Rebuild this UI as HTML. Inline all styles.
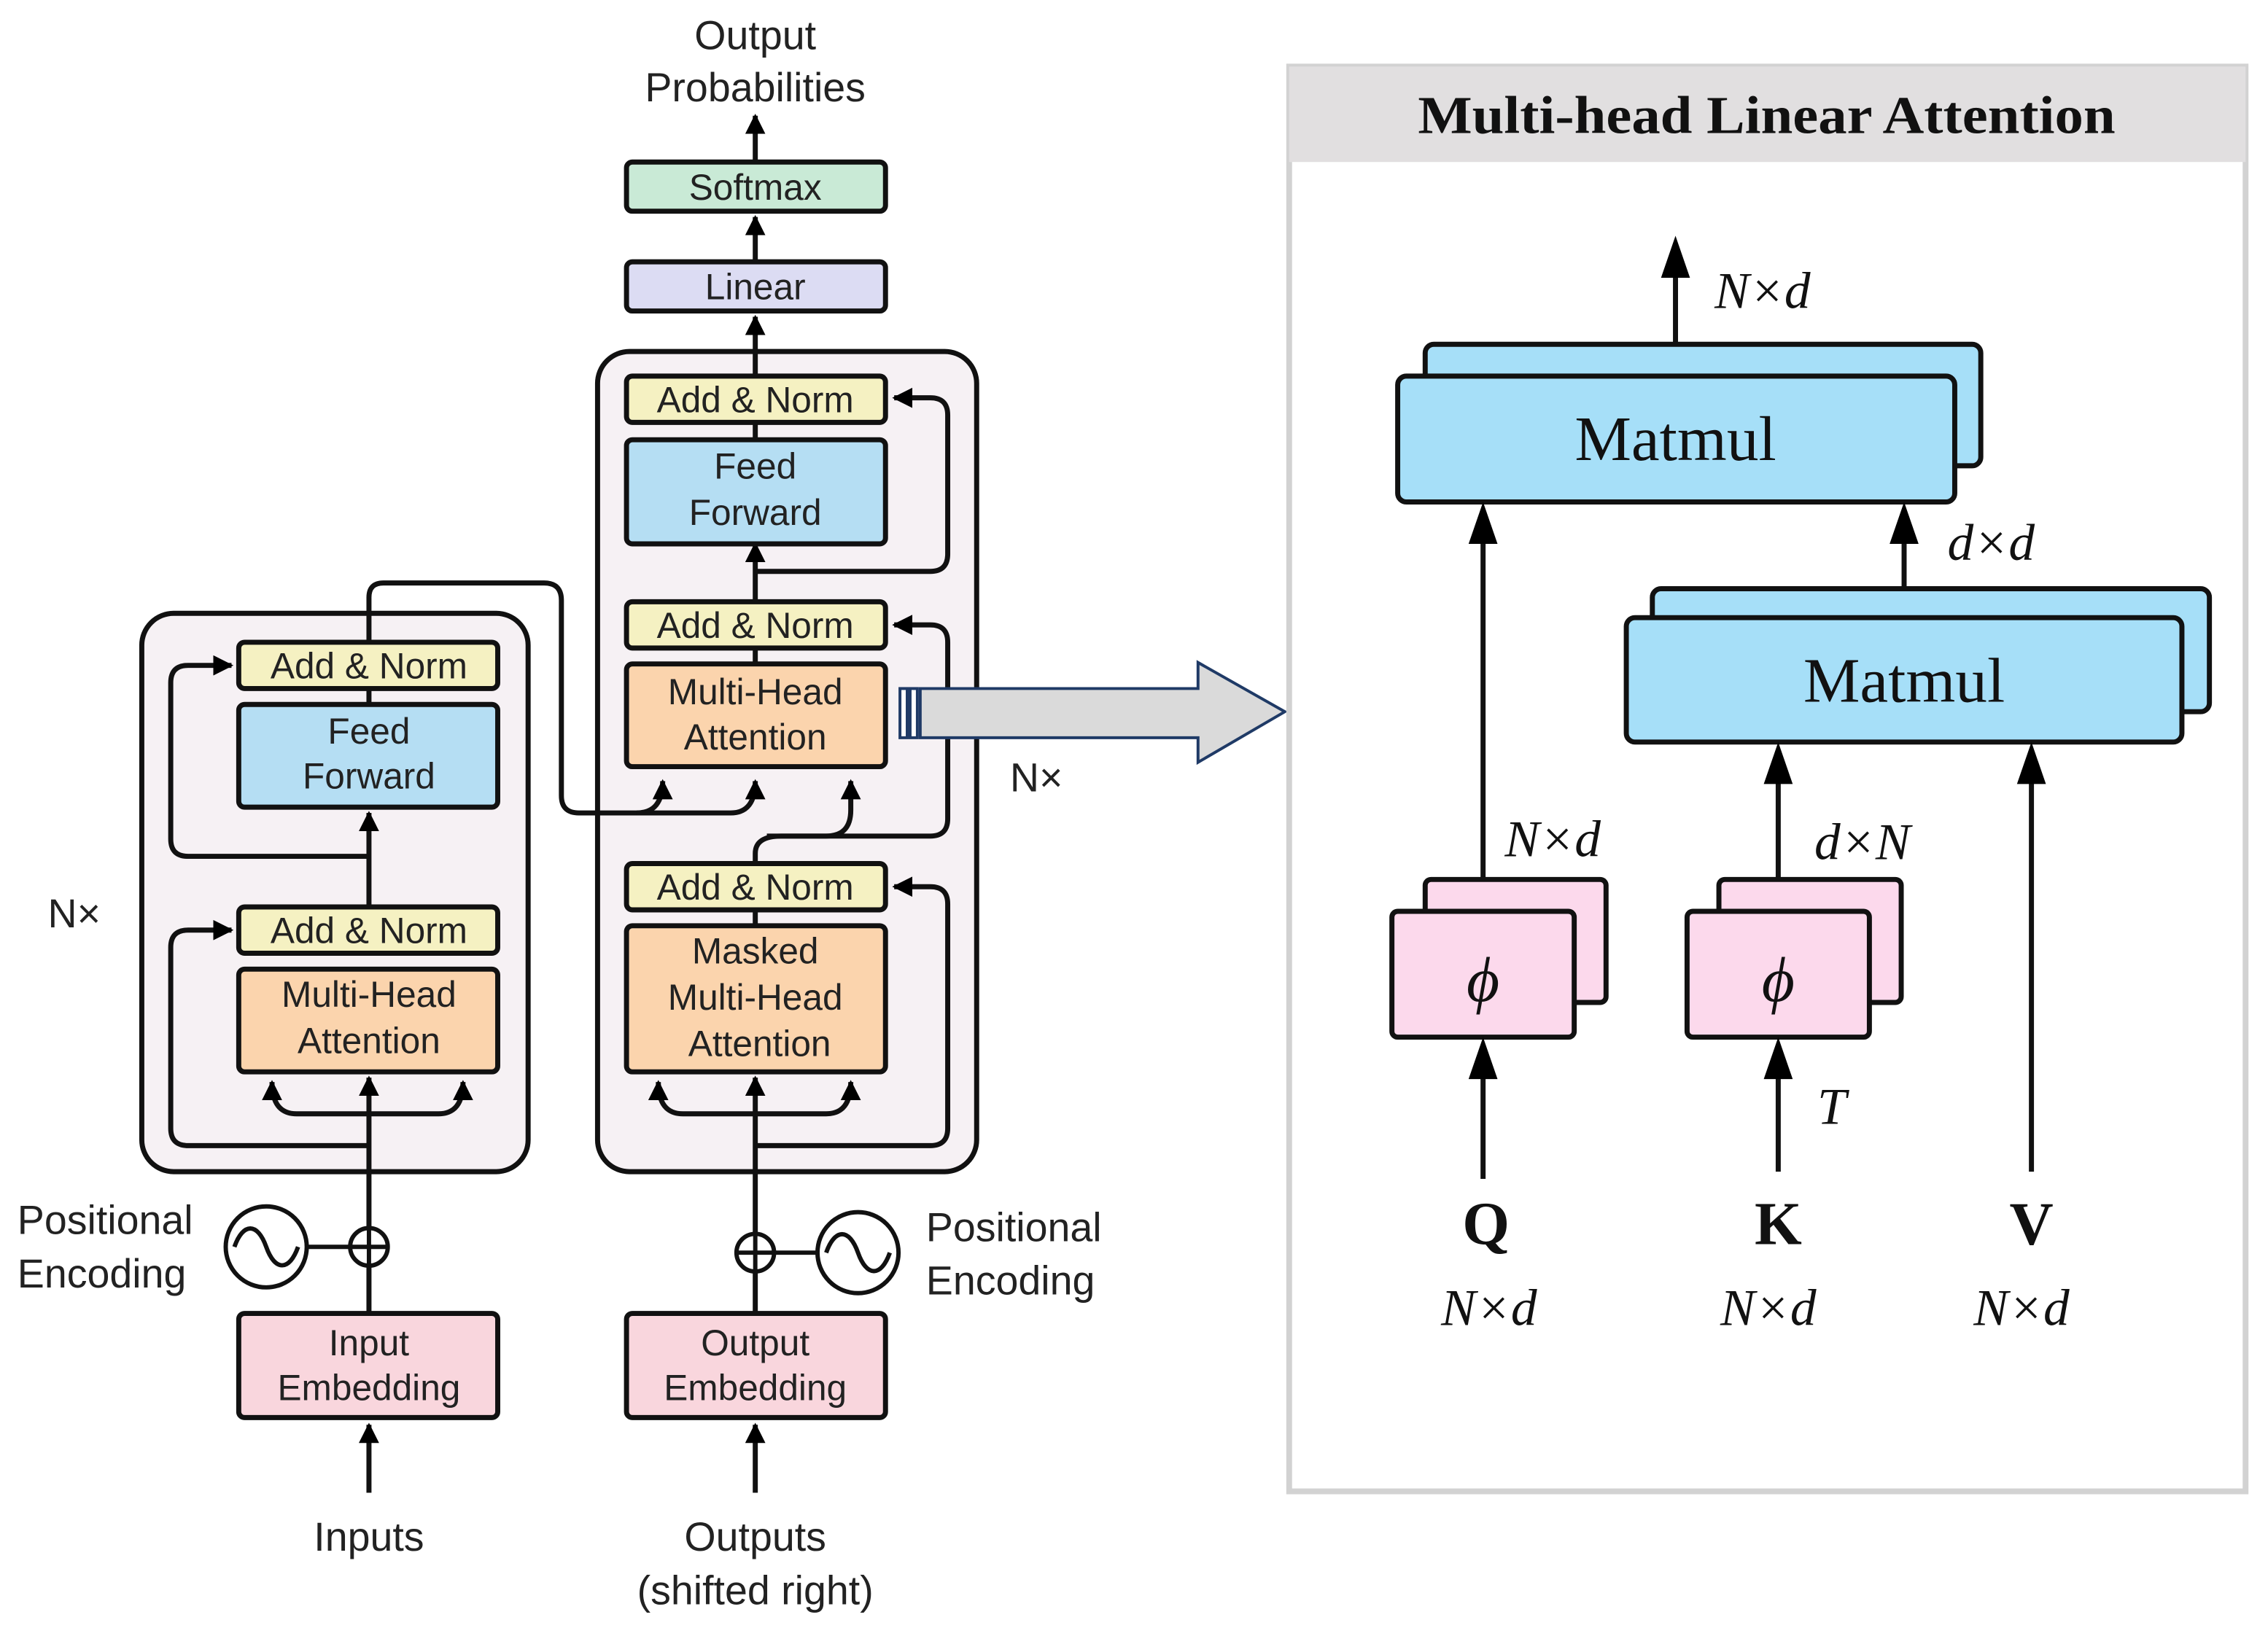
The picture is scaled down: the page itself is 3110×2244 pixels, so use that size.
<!DOCTYPE html>
<html><head><meta charset="utf-8"><style>
html,body{margin:0;padding:0;background:#fff;}
svg{display:block;}
.s{font-family:"Liberation Sans",sans-serif;fill:#222;}
.r{font-family:"Liberation Serif",serif;fill:#111;}
</style></head><body>
<svg width="3110" height="2244" viewBox="0 0 1567.5 1131" xmlns="http://www.w3.org/2000/svg">
<defs>
<marker id="a" viewBox="0 0 10 10" refX="9" refY="5" markerWidth="4" markerHeight="4" orient="auto-start-reverse" markerUnits="strokeWidth"><path d="M0,0 L10,5 L0,10 z" fill="#000"/></marker>
</defs>
<rect width="1567.5" height="1131" fill="#fff"/>

<rect x="98" y="424" width="267" height="386" rx="22" fill="#f6f1f4" stroke="#111" stroke-width="3.5"/>
<rect x="413" y="243" width="262" height="567" rx="22" fill="#f6f1f4" stroke="#111" stroke-width="3.5"/>

<g fill="none" stroke="#111" stroke-width="3.5">
<line x1="255" y1="1032" x2="255" y2="985" marker-end="url(#a)"/>
<line x1="255" y1="908" x2="255" y2="745" marker-end="url(#a)"/>
<path d="M255,770 H205 Q188,770 188,748" marker-end="url(#a)"/>
<path d="M255,770 H303 Q320,770 320,748" marker-end="url(#a)"/>
<path d="M255,792 H130 Q118,792 118,780 V655 Q118,643 130,643 H160" marker-end="url(#a)"/>
<line x1="255" y1="627" x2="255" y2="659"/>
<line x1="255" y1="627" x2="255" y2="562" marker-end="url(#a)"/>
<path d="M255,592 H130 Q118,592 118,580 V472 Q118,460 130,460 H160" marker-end="url(#a)"/>
<line x1="255" y1="476" x2="255" y2="487"/>
<path d="M255,444 V413 Q255,403 265,403 H376 Q388,403 388,415 V550 Q388,562 400,562 H440 Q458,562 458,540" marker-end="url(#a)"/>
<path d="M440,562 H505 Q522,562 522,540" marker-end="url(#a)"/>
<line x1="522" y1="1032" x2="522" y2="985" marker-end="url(#a)"/>
<line x1="522" y1="908" x2="522" y2="745" marker-end="url(#a)"/>
<path d="M522,770 H472 Q455,770 455,748" marker-end="url(#a)"/>
<path d="M522,770 H571 Q588,770 588,748" marker-end="url(#a)"/>
<path d="M522,792 H643 Q655,792 655,780 V625 Q655,613 643,613 H618" marker-end="url(#a)"/>
<line x1="522" y1="629" x2="522" y2="640"/>
<path d="M522,597 V590 Q522,578 540,578 H571 Q588,578 588,560 V540" marker-end="url(#a)"/>
<path d="M530,578 H643 Q655,578 655,566 V444 Q655,432 643,432 H618" marker-end="url(#a)"/>
<line x1="522" y1="448" x2="522" y2="459"/>
<line x1="522" y1="416" x2="522" y2="376" marker-end="url(#a)"/>
<path d="M522,395 H643 Q655,395 655,383 V287 Q655,275 643,275 H618" marker-end="url(#a)"/>
<line x1="522" y1="292" x2="522" y2="304"/>
<line x1="522" y1="260" x2="522" y2="219" marker-end="url(#a)"/>
<line x1="522" y1="181" x2="522" y2="150" marker-end="url(#a)"/>
<line x1="522" y1="112" x2="522" y2="80" marker-end="url(#a)"/>
</g>

<g stroke="#111" stroke-width="3.5">
<rect x="165" y="444" width="179" height="32" rx="4" fill="#f5f1c2"/>
<rect x="165" y="487" width="179" height="71" rx="4" fill="#b5def3"/>
<rect x="165" y="627" width="179" height="32" rx="4" fill="#f5f1c2"/>
<rect x="165" y="670" width="179" height="71" rx="4" fill="#fbd4ad"/>
<rect x="165" y="908" width="179" height="72" rx="4" fill="#f9d6dd"/>
<rect x="433" y="112" width="179" height="34" rx="4" fill="#c9ead6"/>
<rect x="433" y="181" width="179" height="34" rx="4" fill="#dcdcf3"/>
<rect x="433" y="260" width="179" height="32" rx="4" fill="#f5f1c2"/>
<rect x="433" y="304" width="179" height="72" rx="4" fill="#b5def3"/>
<rect x="433" y="416" width="179" height="32" rx="4" fill="#f5f1c2"/>
<rect x="433" y="459" width="179" height="71" rx="4" fill="#fbd4ad"/>
<rect x="433" y="597" width="179" height="32" rx="4" fill="#f5f1c2"/>
<rect x="433" y="640" width="179" height="101" rx="4" fill="#fbd4ad"/>
<rect x="433" y="908" width="179" height="72" rx="4" fill="#f9d6dd"/>
</g>

<g fill="none" stroke="#111" stroke-width="3">
<circle cx="184" cy="862" r="28" fill="#fff"/>
<path d="M162,862 C168,845 178,845 184,862 C190,879 200,879 206,862"/>
<line x1="212" y1="862" x2="242" y2="862"/>
<circle cx="255" cy="862" r="13" fill="#fff"/>
<line x1="242" y1="862" x2="268" y2="862"/><line x1="255" y1="849" x2="255" y2="875"/>
<circle cx="593" cy="866" r="28" fill="#fff"/>
<path d="M571,866 C577,849 587,849 593,866 C599,883 609,883 615,866"/>
<line x1="535" y1="866" x2="565" y2="866"/>
<circle cx="522" cy="866" r="13" fill="#fff"/>
<line x1="509" y1="866" x2="535" y2="866"/><line x1="522" y1="853" x2="522" y2="879"/>
</g>

<g class="s" font-size="25" text-anchor="middle">
<text x="255" y="469">Add &amp; Norm</text>
<text x="255" y="514">Feed</text><text x="255" y="545">Forward</text>
<text x="255" y="652">Add &amp; Norm</text>
<text x="255" y="696">Multi-Head</text><text x="255" y="728">Attention</text>
<text x="255" y="937">Input</text><text x="255" y="968">Embedding</text>
<text x="522" y="138">Softmax</text>
<text x="522" y="207">Linear</text>
<text x="522" y="285">Add &amp; Norm</text>
<text x="522" y="331">Feed</text><text x="522" y="363">Forward</text>
<text x="522" y="441">Add &amp; Norm</text>
<text x="522" y="487">Multi-Head</text><text x="522" y="518">Attention</text>
<text x="522" y="622">Add &amp; Norm</text>
<text x="522" y="666">Masked</text><text x="522" y="698">Multi-Head</text><text x="525" y="730">Attention</text>
<text x="522" y="937">Output</text><text x="522" y="968">Embedding</text>
</g>
<g class="s" font-size="28">
<text x="522" y="34" text-anchor="middle">Output</text>
<text x="522" y="70" text-anchor="middle">Probabilities</text>
<text x="12" y="853">Positional</text><text x="12" y="890">Encoding</text>
<text x="640" y="858">Positional</text><text x="640" y="895">Encoding</text>
<text x="255" y="1072" text-anchor="middle">Inputs</text>
<text x="522" y="1072" text-anchor="middle">Outputs</text>
<text x="522" y="1109" text-anchor="middle">(shifted right)</text>
<text x="33" y="641">N×</text>
<text x="698" y="547">N×</text>
</g>

<g stroke="#1f3a66" stroke-width="2" fill="#dadada">
<path d="M636,476 H828 V458 L888,492 L828,527 V510 H636 Z"/>
<rect x="622" y="476" width="5" height="34" fill="#fff"/>
<rect x="629" y="476" width="5" height="34" fill="#fff"/>
</g>

<rect x="891" y="46" width="661" height="985" fill="#fff" stroke="#d2d2d2" stroke-width="4"/>
<rect x="891" y="46" width="661" height="66" fill="#e1dfe0"/>
<text class="r" x="980" y="92" font-size="37" font-weight="bold" textLength="482" lengthAdjust="spacingAndGlyphs">Multi-head Linear Attention</text>

<g stroke="#111" stroke-width="3.5">
<line x1="1158" y1="238" x2="1158" y2="185"/>
<rect x="985" y="238" width="384" height="84" rx="6" fill="#a6dff8"/>
<rect x="966" y="260" width="385" height="87" rx="6" fill="#a6dff8"/>
<line x1="1316" y1="407" x2="1316" y2="365"/>
<rect x="1142" y="407" width="385" height="85" rx="6" fill="#a6dff8"/>
<rect x="1124" y="427" width="384" height="86" rx="6" fill="#a6dff8"/>
<line x1="1025" y1="608" x2="1025" y2="365"/>
<line x1="1229" y1="608" x2="1229" y2="530"/>
<line x1="1404" y1="810" x2="1404" y2="530"/>
<rect x="985" y="608" width="125" height="85" rx="4" fill="#fcd9ec"/>
<rect x="962" y="630" width="126" height="87" rx="4" fill="#fcd9ec"/>
<rect x="1188" y="608" width="126" height="85" rx="4" fill="#fcd9ec"/>
<rect x="1166" y="630" width="126" height="87" rx="4" fill="#fcd9ec"/>
<line x1="1025" y1="815" x2="1025" y2="735"/>
<line x1="1229" y1="810" x2="1229" y2="735"/>
</g>
<g fill="#000">
<path d="M1158,163 L1168,192 L1148,192 Z"/>
<path d="M1316,347 L1326,376 L1306,376 Z"/>
<path d="M1025,347 L1035,376 L1015,376 Z"/>
<path d="M1229,513 L1239,542 L1219,542 Z"/>
<path d="M1404,513 L1414,542 L1394,542 Z"/>
<path d="M1025,717 L1035,746 L1015,746 Z"/>
<path d="M1229,717 L1239,746 L1219,746 Z"/>
</g>
<g class="r" text-anchor="middle">
<text x="1158" y="318" font-size="44">Matmul</text>
<text x="1316" y="485" font-size="44">Matmul</text>
<text x="1025" y="692" font-size="44" font-style="italic">ϕ</text>
<text x="1229" y="692" font-size="44" font-style="italic">ϕ</text>
<text x="1027" y="860" font-size="42" font-weight="bold">Q</text>
<text x="1229" y="860" font-size="42" font-weight="bold">K</text>
<text x="1404" y="860" font-size="42" font-weight="bold">V</text>
</g>
<g class="r" font-size="36" font-style="italic">
<text x="1185" y="213">N×d</text>
<text x="1346" y="387">d×d</text>
<text x="1040" y="592">N×d</text>
<text x="1254" y="594">d×N</text>
<text x="1256" y="777">T</text>
<text x="996" y="916">N×d</text>
<text x="1189" y="916">N×d</text>
<text x="1364" y="916">N×d</text>
</g>
</svg>
</body></html>
